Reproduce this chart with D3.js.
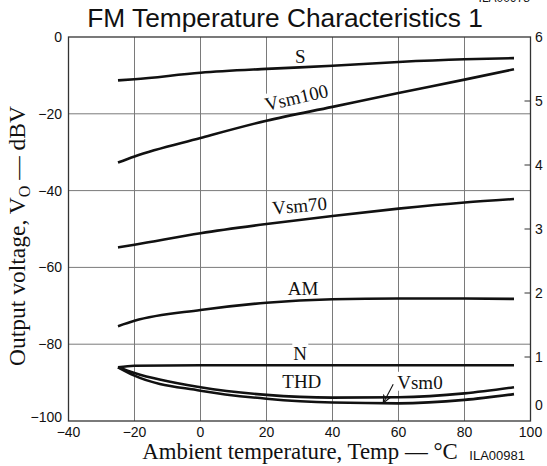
<!DOCTYPE html>
<html>
<head>
<meta charset="utf-8">
<script src="https://cdn.jsdelivr.net/npm/d3@7"></script>
<style>
  body { margin: 0; background: #fff; }
  svg { display: block; }
</style>
</head>
<body>
<div id="chart"></div>
<script>
// values
var temps  = [-25, -20, 0, 20, 40, 60, 80, 95];
var sLevel = [-11.3, -11.0, -9.3, -8.3, -7.5, -6.5, -5.8, -5.5];
var vsm100 = [-32.7, -31.1, -26.3, -21.8, -18.2, -14.6, -11.1, -8.4];
var vsm70  = [-54.8, -54.1, -51.1, -48.7, -46.6, -44.7, -43.1, -42.2];
var amLvl  = [-75.3, -73.9, -71.1, -69.2, -68.3, -68.1, -68.1, -68.2];
var noise  = [-86.0, -85.6, -85.5, -85.5, -85.5, -85.5, -85.5, -85.5];
var thd    = [-86.0, -87.5, -91.2, -93.2, -93.9, -93.8, -92.8, -91.2];
var vsm0   = [-86.0, -88.2, -92.1, -94.2, -95.2, -95.4, -94.5, -93.0];

var xTicks = [-40, -20, 0, 20, 40, 60, 80, 100];
var yTicks = [0, -20, -40, -60, -80, -100];
var thdTicks = [0, 1, 2, 3, 4, 5, 6];

var seriesNames = ["S", "Vsm100", "Vsm70", "AM", "N", "THD", "Vsm0"];
var seriesVals  = [sLevel, vsm100, vsm70, amLvl, noise, thd, vsm0];

// label spots (temp, dBV) and tilt, in chart units
var labelSpots = [
  {x: 30.2, y: -6.8,  rot: 0},
  {x: 29.5, y: -17.4, rot: -13},
  {x: 30.2, y: -45.6, rot: -5},
  {x: 31.1, y: -67.2, rot: 0},
  {x: 30.2, y: -84.1, rot: 0},
  {x: 30.7, y: -91.4, rot: 0},
  {x: 66.5, y: -91.6, rot: 0}
];

var W = 547, H = 466;
var mLeft = 68.5, mRight = 530.5, mTop = 37, mBottom = 421;

var svg = d3.select("#chart").append("svg")
    .attr("width", W)
    .attr("height", H)
    .style("font-family", "'Liberation Sans', Arial, sans-serif");

var x = d3.scaleLinear().domain([-40, 100]).range([mLeft, mRight]);
var y = d3.scaleLinear().domain([-100, 0]).range([mBottom, mTop]);
var y2 = d3.scaleLinear().domain([0, 6]).range([mBottom, mTop]);

// grid
var grid = svg.append("g").attr("stroke", "#7a7a7a").attr("stroke-width", 1);
grid.selectAll("line.v").data(xTicks.slice(1, -1)).enter().append("line")
    .attr("x1", d => x(d)).attr("x2", d => x(d))
    .attr("y1", mTop).attr("y2", mBottom);
grid.selectAll("line.h").data(yTicks.slice(1, -1)).enter().append("line")
    .attr("x1", mLeft).attr("x2", mRight)
    .attr("y1", d => y(d)).attr("y2", d => y(d));

// right axis ticks (inward)
svg.append("g").selectAll("line").data(thdTicks.slice(1, -1)).enter().append("line")
    .attr("x1", mRight - 6).attr("x2", mRight)
    .attr("y1", d => y2(d)).attr("y2", d => y2(d))
    .attr("stroke", "#333").attr("stroke-width", 1);

// curves
var line = d3.line()
    .x((d, i) => x(temps[i]))
    .y(d => y(d))
    .curve(d3.curveMonotoneX);

svg.append("g").selectAll("path").data(seriesVals).enter().append("path")
    .attr("d", d => line(d))
    .attr("fill", "none")
    .attr("stroke", "#111")
    .attr("stroke-width", 2.6)
    .attr("stroke-linejoin", "round");

// frame
svg.append("rect")
    .attr("x", mLeft).attr("y", mTop)
    .attr("width", mRight - mLeft).attr("height", mBottom - mTop)
    .attr("fill", "none").attr("stroke", "#333").attr("stroke-width", 1.3);

// curve labels with white patch behind
var labs = svg.append("g")
    .style("font-family", "'Liberation Serif', 'Times New Roman', serif")
    .style("font-size", "19px");

seriesNames.forEach(function(name, i) {
  var sp = labelSpots[i];
  var g = labs.append("g")
      .attr("transform", "translate(" + x(sp.x) + "," + y(sp.y) + ") rotate(" + sp.rot + ")");
  var bg = g.append("rect").attr("fill", "#fff");
  var t = g.append("text").attr("text-anchor", "middle").attr("fill", "#111").text(name);
  var b = t.node().getBBox();
  bg.attr("x", b.x - 1).attr("y", b.y).attr("width", b.width + 2).attr("height", b.height - 2);
});

// arrow from Vsm0 label to its curve
svg.append("defs").append("marker")
    .attr("id", "arr")
    .attr("viewBox", "0 0 10 10")
    .attr("refX", 9).attr("refY", 5)
    .attr("markerWidth", 8).attr("markerHeight", 8)
    .attr("orient", "auto")
  .append("path")
    .attr("d", "M0,1 L9,5 L0,9")
    .attr("fill", "none").attr("stroke", "#111").attr("stroke-width", 1.4);

svg.append("line")
    .attr("x1", x(58.4)).attr("y1", y(-90.4))
    .attr("x2", x(55.4)).attr("y2", y(-95.3))
    .attr("stroke", "#111").attr("stroke-width", 1.1)
    .attr("marker-end", "url(#arr)");

// tick labels
var tl = svg.append("g").style("font-size", "14px").attr("fill", "#111");
tl.selectAll("text.y").data(yTicks).enter().append("text")
    .attr("x", 62)
    .attr("y", d => y(d) + (d === -100 ? -4 : 0))
    .attr("dy", "0.35em")
    .attr("text-anchor", "end")
    .text(d => String(d).replace("-", "\u2212"));
tl.selectAll("text.x").data(xTicks).enter().append("text")
    .attr("x", d => x(d))
    .attr("y", 436.5)
    .attr("text-anchor", "middle")
    .text(d => String(d).replace("-", "\u2212"));
tl.selectAll("text.r").data(thdTicks).enter().append("text")
    .attr("x", 535)
    .attr("y", d => y2(d) + (d === 0 ? -16 : 0))
    .attr("dy", "0.35em")
    .attr("text-anchor", "start")
    .text(d => d);

// titles
svg.append("text")
    .attr("x", 285).attr("y", 27)
    .attr("text-anchor", "middle")
    .style("font-size", "26.3px")
    .attr("fill", "#111")
    .text("FM Temperature Characteristics 1");

svg.append("text")
    .attr("x", 530).attr("y", 2)
    .attr("text-anchor", "end")
    .style("font-size", "12px")
    .attr("fill", "#111")
    .text("ILA00978");

svg.append("text")
    .attr("x", 300).attr("y", 459)
    .attr("text-anchor", "middle")
    .style("font-family", "'Liberation Serif', 'Times New Roman', serif")
    .style("font-size", "22.8px")
    .attr("fill", "#111")
    .text("Ambient temperature, Temp \u2014 \u00B0C");

svg.append("text")
    .attr("x", 525).attr("y", 460)
    .attr("text-anchor", "end")
    .style("font-size", "13px")
    .attr("fill", "#111")
    .text("ILA00981");

var yt = svg.append("text")
    .attr("transform", "translate(25,236) rotate(-90)")
    .attr("text-anchor", "middle")
    .style("font-family", "'Liberation Serif', 'Times New Roman', serif")
    .style("font-size", "23.5px")
    .attr("fill", "#111");
yt.append("tspan").text("Output voltage, V");
yt.append("tspan").attr("dy", 5).style("font-size", "16px").text("O");
yt.append("tspan").attr("dy", -5).text(" \u2014 dBV");
</script>
</body>
</html>
